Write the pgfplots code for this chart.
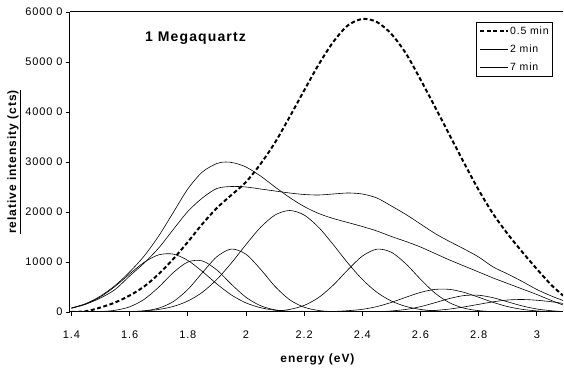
\documentclass[border=0pt]{standalone}
\usepackage{fontspec}
\setmainfont{Liberation Sans}[LetterSpace=8]
\usepackage{pgfplots}
\pgfplotsset{compat=1.18}
\pgfplotstableset{col sep=space}
\begin{document}
\begin{tikzpicture}
\useasboundingbox (-70pt,-62pt) rectangle (494pt,312pt);
\begin{axis}[
  at={(0pt,0pt)}, anchor=south west,
  scale only axis, width=493pt, height=300pt,
  xmin=1.395, xmax=3.09, ymin=0, ymax=6000,
  axis x line*=box, axis y line*=left,
  xtick pos=left,
  axis line style={line width=1pt, black},
  tick style={line width=0.8pt, black},
  tick align=outside, major tick length=4pt,
  xtick={1.4,1.6,1.8,2,2.2,2.4,2.6,2.8,3},
  xticklabels={1.4,1.6,1.8,2,2.2,2.4,2.6,2.8,3},
  ytick={0,1000,2000,3000,4000,5000,6000},
  yticklabels={0,1000 0,2000 0,3000 0,4000 0,5000 0,6000 0},
  tick label style={font=\fontsize{11}{13}\selectfont},
  xticklabel style={yshift=-11pt},
  xlabel={energy (eV)},
  xlabel style={at={(axis description cs:0.502,-0.157)}, anchor=center, font=\bfseries\fontsize{12}{14}\selectfont},
  ylabel={\underline{relative intensity (cts)}},
  ylabel style={at={(axis description cs:-0.1136,0.5)}, anchor=center, font=\bfseries\fontsize{12}{14}\selectfont},
  legend style={at={(0.980,0.966)}, anchor=north east, draw=black, line width=0.8pt,
    inner xsep=3pt, inner ysep=3pt, row sep=7pt, font=\fontsize{10.5}{12}\selectfont,
    nodes={inner sep=1pt}},
  legend cell align=left,
  legend image code/.code={\draw[#1] (0pt,0pt) -- (28pt,0pt);},
]
\addplot[black, line width=2pt, dash pattern=on 4pt off 2.5pt, smooth] table {
1.40 0
1.45 15
1.50 90
1.55 190
1.60 330
1.65 510
1.70 760
1.75 1060
1.80 1400
1.85 1760
1.90 2080
1.95 2340
2.00 2600
2.05 2960
2.10 3390
2.15 3900
2.20 4430
2.25 4950
2.30 5400
2.35 5730
2.40 5860
2.45 5800
2.50 5560
2.55 5170
2.60 4650
2.65 4100
2.70 3540
2.75 2980
2.80 2440
2.85 1960
2.90 1560
2.95 1200
3.00 860
3.05 540
3.09 330
};
\addlegendentry{0.5 min}
\addplot[black, line width=0.6pt, smooth] table {
1.40 80
1.45 170
1.50 320
1.55 530
1.60 800
1.65 1120
1.70 1520
1.75 1990
1.80 2460
1.85 2800
1.90 2970
1.93 3000
1.96 2980
2.00 2900
2.05 2720
2.10 2500
2.15 2290
2.20 2110
2.25 1970
2.30 1870
2.35 1790
2.40 1710
2.45 1620
2.50 1510
2.55 1410
2.60 1300
2.65 1170
2.70 1040
2.75 920
2.80 800
2.85 680
2.90 570
2.95 460
3.00 350
3.05 230
3.09 140
};
\addlegendentry{2 min}
\addplot[black, line width=0.6pt, smooth] table {
1.40 80
1.45 160
1.50 280
1.55 450
1.60 720
1.65 980
1.70 1280
1.75 1650
1.80 2010
1.85 2280
1.90 2470
1.95 2510
2.00 2500
2.05 2460
2.10 2420
2.15 2380
2.20 2350
2.25 2340
2.30 2360
2.35 2380
2.40 2360
2.45 2280
2.50 2120
2.55 1950
2.60 1760
2.65 1570
2.70 1410
2.75 1260
2.80 1100
2.85 900
2.90 760
2.95 610
3.00 450
3.05 320
3.09 230
};
\addlegendentry{7 min}
% Gaussian components
\addplot[black, line width=0.6pt, smooth, forget plot] table {
1.40 73
1.45 158
1.50 303
1.55 512
1.60 760
1.65 994
1.70 1143
1.75 1158
1.80 1032
1.85 811
1.90 560
1.95 340
2.00 182
2.05 86
2.10 36
2.15 13
2.20 4
2.30 0
};
\addplot[black, line width=0.6pt, smooth, forget plot] table {
1.45 0
1.50 9
1.55 34
1.60 103
1.65 253
1.70 497
1.75 787
1.80 1000
1.85 1022
1.90 840
1.95 554
2.00 294
2.05 126
2.10 43
2.15 12
2.20 3
2.30 0
};
\addplot[black, line width=0.6pt, smooth, forget plot] table {
1.55 0
1.60 6
1.65 23
1.70 77
1.75 208
1.80 450
1.85 785
1.90 1106
1.95 1259
2.00 1155
2.05 856
2.10 511
2.15 246
2.20 96
2.25 30
2.30 8
2.40 0
};
\addplot[black, line width=0.6pt, smooth, forget plot] table {
1.55 0
1.60 8
1.65 22
1.70 51
1.75 111
1.80 219
1.85 395
1.90 652
1.95 981
2.00 1348
2.05 1692
2.10 1940
2.15 2030
2.20 1940
2.25 1692
2.30 1348
2.35 981
2.40 652
2.45 395
2.50 219
2.55 111
2.60 51
2.65 22
2.70 8
2.80 0
};
\addplot[black, line width=0.6pt, smooth, forget plot] table {
2.00 0
2.05 4
2.10 17
2.15 51
2.20 132
2.25 290
2.30 537
2.35 842
2.40 1118
2.45 1256
2.50 1195
2.55 962
2.60 656
2.65 378
2.70 185
2.75 76
2.80 27
2.85 8
2.95 0
};
\addplot[black, line width=0.6pt, smooth, forget plot] table {
2.30 10
2.35 26
2.40 53
2.45 108
2.50 192
2.55 295
2.60 392
2.65 452
2.70 452
2.75 392
2.80 295
2.85 192
2.90 108
2.95 53
3.00 22
3.05 8
3.09 3
};
\addplot[black, line width=0.6pt, smooth, forget plot] table {
2.40 0
2.45 4
2.50 21
2.55 51
2.60 107
2.65 186
2.70 270
2.75 329
2.80 335
2.85 285
2.90 203
2.95 121
3.00 60
3.05 25
3.09 10
};
\addplot[black, line width=0.6pt, smooth, forget plot] table {
2.50 2
2.55 5
2.60 14
2.65 31
2.70 59
2.75 102
2.80 153
2.85 204
2.90 240
2.95 250
3.00 235
3.05 205
3.09 172
};
\node[font=\bfseries\fontsize{14}{16}\selectfont] at (rel axis cs:0.2546,0.913) {1 Megaquartz};
\end{axis}
\end{tikzpicture}
\end{document}
